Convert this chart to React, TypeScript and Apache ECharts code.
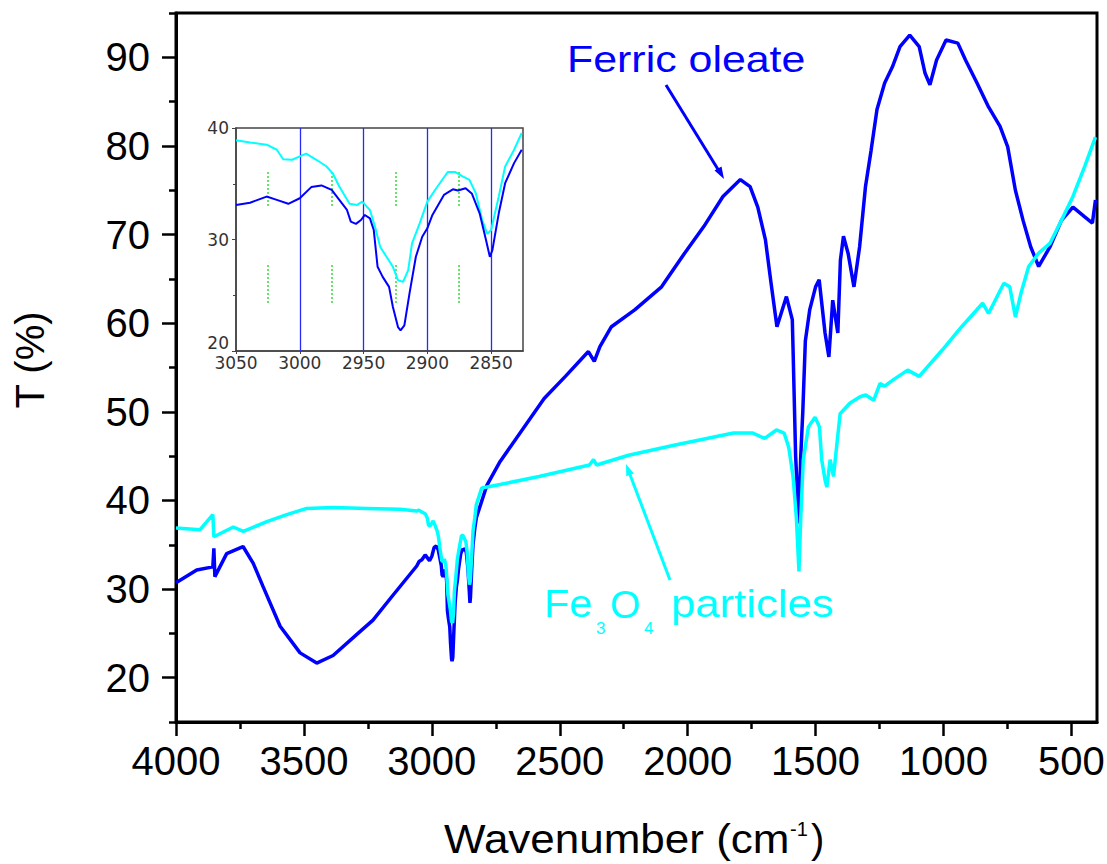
import React, { useEffect, useRef } from "react";
import * as echarts from "echarts";

// Ferric oleate spectrum (wavenumber cm-1, transmittance %)
const oleateWavenumber = [
  4000, 3919, 3856, 3852, 3848, 3802, 3738, 3698, 3660, 3593, 3515, 3450, 3386, 3281, 3230, 3152, 3059,
  3050, 3039, 3026, 3018, 3009, 3000, 2991, 2983, 2975, 2969, 2963, 2960, 2956, 2952, 2949, 2945, 2942,
  2939, 2935, 2930, 2927, 2923, 2921, 2918, 2914, 2909, 2904, 2900, 2896, 2887, 2880, 2876, 2870, 2865,
  2859, 2854, 2851, 2849, 2844, 2839, 2832, 2826,
  2785, 2733, 2561, 2478, 2388, 2365, 2343, 2298, 2207, 2102, 2012, 1937, 1862, 1794, 1756, 1726, 1696,
  1674, 1651, 1614, 1591, 1588, 1578, 1565, 1558, 1550, 1540, 1523, 1500, 1486, 1463, 1448, 1433, 1413,
  1403, 1391, 1373, 1350, 1328, 1305, 1283, 1260, 1230, 1200, 1170, 1132, 1095, 1072, 1053, 1027, 990,
  944, 914, 869, 824, 779, 749, 719, 689, 659, 628, 584, 539, 494, 448, 418, 406,
];
const oleateT = [
  30.7, 32.15, 32.5, 34.6, 31.4, 34.0, 34.8, 32.9, 30.3, 25.8, 22.8, 21.65, 22.5, 25.2, 26.5, 29.3, 32.6,
  33.1, 33.3, 33.85, 33.55, 33.2, 33.7, 34.7, 34.85, 34.45, 33.55, 32.65, 31.6, 31.4, 31.75, 32.2, 31.9, 30.85,
  27.55, 26.65, 25.75, 23.95, 22.15, 21.85, 22.3, 25.15, 28.45, 30.25, 31.0, 32.2, 34.0, 34.5, 34.4, 34.6, 34.1,
  32.35, 29.95, 28.45, 29.05, 32.35, 35.05, 36.85, 38.05,
  41.7, 44.4, 51.5, 54.0, 56.8, 55.7, 57.35, 59.6, 61.5, 64.1, 67.9, 70.9, 74.3, 76.2, 75.4, 73.1, 69.4,
  64.5, 59.6, 63.0, 60.4, 57.0, 45.0, 37.4, 45.0, 50.0, 58.0, 61.5, 64.1, 64.9, 58.9, 56.2, 62.6, 58.9,
  67.1, 69.8, 67.9, 64.1, 68.6, 75.4, 79.5, 84.1, 87.1, 88.9, 91.2, 92.5, 91.2, 88.2, 86.9, 89.7, 91.95,
  91.6, 89.7, 87.1, 84.4, 82.2, 79.9, 75.0, 71.6, 68.6, 66.4, 68.6, 71.6, 73.1, 72.0, 71.3, 73.9,
];

// Fe3O4 particles spectrum
const fe3o4Wavenumber = [
  4000, 3906, 3856, 3852, 3776, 3737, 3645, 3567, 3489, 3385, 3254, 3124, 3059,
  3050, 3039, 3026, 3018, 3013, 3006, 3000, 2995, 2987, 2979, 2974, 2969, 2961, 2955, 2951, 2945, 2941,
  2937, 2932, 2927, 2923, 2919, 2915, 2912, 2906, 2900, 2893, 2884, 2878, 2873, 2867, 2862, 2857, 2853,
  2850, 2844, 2839, 2832, 2826,
  2805, 2733, 2581, 2384, 2368, 2356, 2231, 2049, 1821, 1745, 1699, 1653, 1623, 1605, 1588, 1575, 1565,
  1558, 1548, 1528, 1502, 1485, 1476, 1463, 1456, 1443, 1430, 1418, 1404, 1365, 1326, 1304, 1273, 1248,
  1230, 1197, 1140, 1095, 1004, 929, 847, 824, 764, 741, 719, 697, 667, 628, 584, 539, 494, 448, 406,
];
const fe3o4T = [
  36.9, 36.7, 38.4, 35.9, 37.0, 36.5, 37.6, 38.4, 39.1, 39.2, 39.1, 39.0, 38.8,
  38.9, 38.7, 38.5, 38.05, 37.2, 37.15, 37.45, 37.7, 37.15, 36.55, 35.9, 34.75, 33.2, 33.1, 33.4, 32.65, 31.15,
  29.35, 28.45, 27.55, 26.35, 26.2, 27.25, 29.65, 31.45, 33.4, 34.6, 36.05, 36.05, 35.7, 35.35, 34.15, 31.75, 30.5,
  30.85, 33.85, 36.55, 38.05, 39.55,
  41.4, 41.8, 42.7, 44.0, 44.6, 44.0, 45.1, 46.25, 47.6, 47.6, 47.0, 47.95, 47.6, 46.0, 42.7, 38.0, 32.0,
  38.0, 44.6, 48.3, 49.4, 48.3, 44.6, 42.3, 41.5, 44.6, 42.7, 46.0, 49.8, 51.0, 51.7, 51.9, 51.3, 53.2,
  52.9, 53.6, 54.7, 54.0, 57.0, 59.6, 62.25, 61.1, 64.5, 64.1, 60.7, 63.4, 66.4, 67.9, 69.0, 71.6, 74.3, 77.7, 81.0,
];

const mainXTicks = [4000, 3500, 3000, 2500, 2000, 1500, 1000, 500];
const mainYTicks = [20, 30, 40, 50, 60, 70, 80, 90];
const insetXTicks = [3050, 3000, 2950, 2900, 2850];
const insetGridLines = [3000, 2950, 2900, 2850];
const insetMarkerWavenumber = [3025, 2975, 2925, 2875];
const insetMarkerSpans = [
  [33.0, 36.2],
  [24.3, 27.9],
];

const FONT = '"Liberation Sans", Arial, Helvetica, sans-serif';
const BLUE = "#0000ff";
const CYAN = "#00ffff";

const toPairs = (ws: number[], ts: number[]) => ws.map((w, i) => [-w, ts[i]]);
const inInset = (p: number[]) => -p[0] <= 3050 && -p[0] >= 2825;

function txt(x: number, y: number, text: string, size: number, fill: string, extra: any = {}) {
  const { align, ...rest } = extra;
  return {
    type: "text",
    x,
    y,
    silent: true,
    ...rest,
    style: {
      text,
      fill,
      font: `${size}px ${FONT}`,
      fontSize: size,
      fontFamily: FONT,
      align: align || "left",
      textAlign: align || "left",
      verticalAlign: "middle",
      textVerticalAlign: "middle",
    },
  };
}

export default function App() {
  const ref = useRef<HTMLDivElement>(null);

  useEffect(() => {
    if (!ref.current) return;
    const chart = echarts.init(ref.current, undefined, { renderer: "svg" });

    const oleate = toPairs(oleateWavenumber, oleateT);
    const fe3o4 = toPairs(fe3o4Wavenumber, fe3o4T);

    const option: any = {
      animation: false,
      backgroundColor: "#ffffff",
      grid: [
        {
          left: 176,
          top: 13,
          right: 10,
          bottom: 142,
          show: true,
          borderColor: "#000",
          borderWidth: 3,
          backgroundColor: "transparent",
          outerBoundsMode: "none",
          containLabel: false,
        },
        {
          left: 236,
          top: 128,
          width: 287,
          height: 223,
          show: true,
          borderColor: "#444",
          borderWidth: 1.5,
          backgroundColor: "#ffffff",
          outerBoundsMode: "none",
          containLabel: false,
        },
      ],
      xAxis: [
        {
          type: "value",
          gridIndex: 0,
          min: -4000,
          max: -400,
          interval: 500,
          axisLine: { show: true, onZero: false, lineStyle: { color: "#000", width: 3 } },
          axisTick: {
            show: true,
            inside: false,
            length: 14,
            customValues: mainXTicks.map((v) => -v),
            lineStyle: { color: "#000", width: 2.5 },
          },
          minorTick: { show: true, splitNumber: 2, length: 7, lineStyle: { color: "#000", width: 2.5 } },
          axisLabel: {
            show: true,
            fontSize: 40,
            fontFamily: FONT,
            color: "#000",
            margin: 19,
            customValues: mainXTicks.map((v) => -v),
            formatter: (v: number) => String(-v),
          },
          splitLine: { show: false },
          minorSplitLine: { show: false },
        },
        {
          type: "value",
          gridIndex: 1,
          min: -3050,
          max: -2825,
          interval: 50,
          axisLine: { show: true, onZero: false, lineStyle: { color: "#444", width: 1.5 } },
          axisTick: {
            show: true,
            inside: false,
            length: 3,
            customValues: insetXTicks.map((v) => -v),
            lineStyle: { color: "#444", width: 1 },
          },
          axisLabel: {
            show: true,
            fontSize: 17,
            fontFamily: '"DejaVu Sans", sans-serif',
            color: "#333",
            margin: 3,
            customValues: insetXTicks.map((v) => -v),
            formatter: (v: number) => String(-v),
          },
          splitLine: { show: false },
        },
      ],
      yAxis: [
        {
          type: "value",
          gridIndex: 0,
          position: "left",
          min: 15,
          max: 95,
          axisLine: { show: true, onZero: false, lineStyle: { color: "#000", width: 3 } },
          axisTick: {
            show: true,
            inside: false,
            length: 14,
            customValues: mainYTicks,
            lineStyle: { color: "#000", width: 2.5 },
          },
          axisLabel: {
            show: true,
            fontSize: 40,
            fontFamily: FONT,
            color: "#000",
            margin: 26,
            customValues: mainYTicks,
          },
          splitLine: { show: false },
        },
        {
          type: "value",
          gridIndex: 0,
          position: "left",
          offset: 0,
          min: 15,
          max: 95,
          interval: 10,
          axisLine: { show: false },
          axisTick: { show: true, inside: false, length: 7, lineStyle: { color: "#000", width: 2.5 } },
          axisLabel: { show: false },
          splitLine: { show: false },
        },
        {
          type: "value",
          gridIndex: 1,
          position: "left",
          min: 20,
          max: 40,
          interval: 10,
          axisLine: { show: true, onZero: false, lineStyle: { color: "#444", width: 1.5 } },
          axisTick: { show: true, inside: false, length: 4, lineStyle: { color: "#444", width: 1 } },
          minorTick: { show: true, splitNumber: 2, length: 3, lineStyle: { color: "#444", width: 1 } },
          axisLabel: {
            show: true,
            fontSize: 17,
            fontFamily: '"DejaVu Sans", sans-serif',
            color: "#333",
            margin: 7,
            verticalAlignMinLabel: "bottom",
          },
          splitLine: { show: false },
        },
      ],
      series: [
        {
          name: "Ferric oleate",
          type: "line",
          xAxisIndex: 0,
          yAxisIndex: 0,
          data: oleate,
          showSymbol: false,
          symbol: "none",
          lineStyle: { color: BLUE, width: 3.5 },
          itemStyle: { color: BLUE },
          z: 3,
        },
        {
          name: "Fe3O4 particles",
          type: "line",
          xAxisIndex: 0,
          yAxisIndex: 0,
          data: fe3o4,
          showSymbol: false,
          symbol: "none",
          lineStyle: { color: CYAN, width: 3.5 },
          itemStyle: { color: CYAN },
          z: 4,
        },
        {
          name: "inset grid",
          type: "lines",
          coordinateSystem: "cartesian2d",
          xAxisIndex: 1,
          yAxisIndex: 2,
          silent: true,
          data: insetGridLines.map((w) => ({ coords: [[-w, 20], [-w, 40]] })),
          lineStyle: { color: "#2828ff", width: 1.3, opacity: 1, curveness: 0 },
          z: 2,
        },
        {
          name: "inset markers",
          type: "lines",
          coordinateSystem: "cartesian2d",
          xAxisIndex: 1,
          yAxisIndex: 2,
          silent: true,
          data: insetMarkerWavenumber.flatMap((w) =>
            insetMarkerSpans.map((s) => ({ coords: [[-w, s[0]], [-w, s[1]]] }))
          ),
          lineStyle: { color: "#33dd33", width: 1.5, opacity: 1, type: [2, 2], curveness: 0 },
          z: 2,
        },
        {
          name: "Ferric oleate (inset)",
          type: "line",
          xAxisIndex: 1,
          yAxisIndex: 2,
          data: oleate.filter(inInset),
          showSymbol: false,
          symbol: "none",
          lineStyle: { color: BLUE, width: 2 },
          z: 5,
        },
        {
          name: "Fe3O4 (inset)",
          type: "line",
          xAxisIndex: 1,
          yAxisIndex: 2,
          data: fe3o4.filter(inInset),
          showSymbol: false,
          symbol: "none",
          lineStyle: { color: CYAN, width: 2 },
          z: 4,
        },
      ],
      graphic: [
        // Ferric oleate label + arrow
        txt(567, 59, "Ferric oleate", 37, BLUE, { scaleX: 1.16 }),
        {
          type: "line",
          silent: true,
          shape: { x1: 666, y1: 85, x2: 719, y2: 171 },
          style: { stroke: BLUE, lineWidth: 3 },
        },
        {
          type: "polygon",
          silent: true,
          shape: { points: [[724, 179], [714.5, 170.5], [721.5, 166.5]] },
          style: { fill: BLUE },
        },
        // Fe3O4 label + arrow
        txt(544, 604, "Fe", 39, CYAN, { scaleX: 1.06 }),
        txt(596, 628, "3", 17, CYAN),
        txt(610, 604, "O", 39, CYAN),
        txt(644, 628, "4", 17, CYAN),
        txt(671, 604, "particles", 39, CYAN, { scaleX: 1.12 }),
        {
          type: "line",
          silent: true,
          shape: { x1: 670, y1: 580, x2: 629, y2: 472 },
          style: { stroke: CYAN, lineWidth: 3 },
        },
        {
          type: "polygon",
          silent: true,
          shape: { points: [[626, 464], [633.8, 473.5], [626.3, 476.3]] },
          style: { fill: CYAN },
        },
        // Axis titles
        txt(30, 360, "T (%)", 40, "#000", { rotation: Math.PI / 2, align: "center" }),
        txt(444, 839, "Wavenumber (cm", 40, "#000", { scaleX: 1.1 }),
        txt(790, 829, "-1", 20, "#000"),
        txt(811, 839, ")", 40, "#000"),
      ],
    };

    chart.setOption(option);
    return () => chart.dispose();
  }, []);

  return (
    <div
      ref={ref}
      style={{ position: "absolute", left: 0, top: 0, width: 1107, height: 864, background: "#fff" }}
    />
  );
}
